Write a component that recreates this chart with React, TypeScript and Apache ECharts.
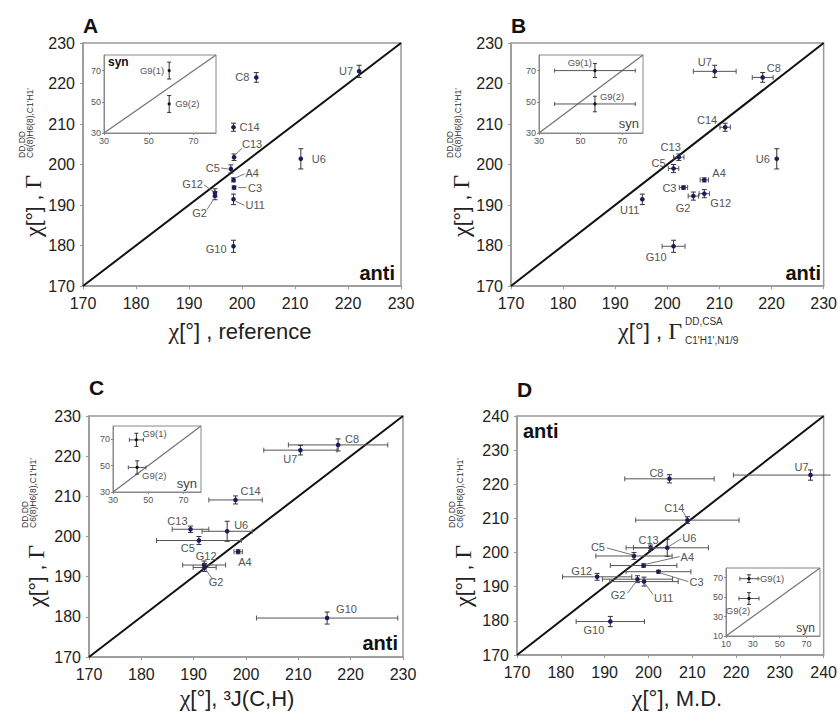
import React, { useEffect, useRef } from 'react';
import * as echarts from 'echarts';

const FONT = '"Liberation Sans", Arial, sans-serif';
const SERIF = '"Liberation Serif", "Times New Roman", serif';

// ---------- Panel A : reference ----------
const aNames = ['U7', 'C8', 'C14', 'C13', 'U6', 'C5', 'A4', 'C3', 'G12', 'G2', 'U11', 'G10'];
const aX = [222.1, 202.7, 198.4, 198.5, 211.1, 197.9, 198.4, 198.5, 194.9, 194.9, 198.4, 198.4];
const aY = [223.0, 221.5, 209.2, 201.8, 201.4, 198.9, 196.2, 194.3, 193.0, 192.3, 191.4, 179.8];
const aXErr = [0, 0, 0, 0, 0, 0, 0, 0, 0, 0, 0, 0];
const aYErr = [1.5, 1.2, 1.0, 0.8, 2.5, 1.0, 0.5, 0.4, 1.0, 1.0, 1.3, 1.5];

// ---------- Panel B : DD,CSA ----------
const bNames = ['U7', 'C8', 'C14', 'C13', 'U6', 'C5', 'A4', 'C3', 'G12', 'G2', 'U11', 'G10'];
const bX = [209.1, 218.3, 211.1, 202.2, 221.0, 201.2, 207.1, 203.1, 207.1, 205.0, 195.2, 201.2];
const bY = [223.0, 221.5, 209.2, 201.8, 201.4, 199.0, 196.2, 194.3, 192.8, 192.2, 191.4, 179.8];
const bXErr = [4.1, 2.0, 1.0, 1.0, 0, 1.0, 0.8, 0.8, 1.0, 1.0, 0, 2.2];
const bYErr = [1.5, 1.2, 1.0, 0.8, 2.5, 1.0, 0.5, 0.4, 1.0, 1.0, 1.3, 1.5];

// ---------- Panel C : 3J(C,H) ----------
const cNames = ['C8', 'U7', 'C14', 'C13', 'U6', 'C5', 'A4', 'G12', 'G2', 'G10'];
const cX = [217.6, 210.4, 198.0, 189.4, 196.4, 191.0, 198.5, 192.0, 192.1, 215.5];
const cY = [222.8, 221.5, 209.1, 201.8, 201.3, 199.0, 196.2, 192.9, 192.3, 179.7];
const cXErr = [9.5, 7.0, 5.1, 3.5, 4.8, 8.1, 0.8, 4.1, 2.2, 13.5];
const cYErr = [1.5, 1.2, 1.0, 0.8, 2.5, 1.0, 0.5, 1.0, 1.0, 1.5];

// ---------- Panel D : M.D. ----------
const dNames = ['U7', 'C8', 'C14', 'C13', 'U6', 'C5', 'A4', 'C3', 'G12', 'G2', 'U11', 'G10'];
const dX = [237.0, 204.8, 208.9, 200.5, 204.3, 196.7, 198.9, 202.3, 188.3, 197.5, 199.0, 191.3];
const dY = [222.7, 221.6, 209.5, 201.4, 201.4, 199.0, 196.2, 194.4, 192.9, 192.2, 191.5, 179.8];
const dXErr = [17.6, 10.2, 11.8, 3.9, 9.4, 8.7, 7.6, 7.4, 7.9, 8.0, 7.8, 7.8];
const dYErr = [1.5, 1.2, 1.0, 0.8, 2.5, 1.0, 0.5, 0.4, 1.0, 1.0, 1.3, 1.5];

// ---------- insets (syn) ----------
const synNames = ['G9(1)', 'G9(2)'];
const aInsX = [59.1, 59.1];
const aInsY = [70.0, 48.6];
const aInsXErr = [0, 0];
const aInsYErr = [5.4, 5.4];
const bInsX = [56.9, 56.9];
const bInsY = [70.0, 48.6];
const bInsXErr = [19.4, 19.4];
const bInsYErr = [4.5, 5.0];
const cInsX = [43.3, 43.7];
const cInsY = [69.5, 48.6];
const cInsXErr = [4.0, 5.0];
const cInsYErr = [5.0, 5.0];
const dInsX = [27.1, 27.1];
const dInsY = [69.0, 48.6];
const dInsXErr = [6.8, 7.5];
const dInsYErr = [4.0, 6.0];

const mainRanges = [[170, 230], [170, 230], [170, 230], [170, 240]];
const insetRanges = [[30, 80], [30, 80], [30, 80], [10, 80]];

// label placement (pixel offsets from the point): [dx, dy, align, leader?]
const aLab: Record<string, any[]> = {
  U7: [-6, 0, 'right'], C8: [-7, 0, 'right'], C14: [6, 0, 'left'],
  C13: [8, -13, 'left', [2, -3, 8, -9]], U6: [11, 0, 'left'],
  C5: [-11, -1, 'right', [-10, -1, -3, 0]], A4: [12, -7, 'left', [2, -2, 11, -6]],
  C3: [14, 0, 'left', [4, 0, 12, 0]], G12: [-12, -9, 'right', [-11, -8, -1, -1]],
  G2: [-8, 17, 'right', [-8, 14, -1, 3]], U11: [12, 6, 'left', [2, 2, 11, 6]],
  G10: [-7, 3, 'right'],
};
const bLab: Record<string, any[]> = {
  U7: [-3, -9, 'right'], C8: [4, -9, 'left'], C14: [-8, -7, 'right'],
  C13: [2, -10, 'right'], U6: [-7, 0, 'right'], C5: [-8, -6, 'right'],
  A4: [8, -7, 'left'], C3: [-7, 0, 'right'], G12: [6, 9, 'left'],
  G2: [-3, 12, 'right'], U11: [-3, 11, 'right'], G10: [-7, 11, 'right'],
};
const cLab: Record<string, any[]> = {
  C8: [7, -6, 'left'], U7: [-3, 9, 'right'], C14: [5, -9, 'left'],
  C13: [-3, -8, 'right'], U6: [7, -6, 'left'], C5: [-4, 7, 'right'],
  A4: [0, 10, 'left'], G12: [2, -9, 'center'], G2: [4, 15, 'left', [1, 2, 8, 12]],
  G10: [9, -9, 'left'],
};
const dLab: Record<string, any[]> = {
  U7: [-2, -8, 'right'], C8: [-6, -6, 'right'], C14: [-3, -12, 'right', [-4, -8, -1, -2]],
  C13: [-2, -8, 'center'], U6: [15, -10, 'left', [1, -1, 14, -9]],
  C5: [-29, -9, 'right', [-27, -8, -1, -1]], A4: [37, -9, 'left', [1, -1, 36, -9]],
  C3: [31, 10, 'left', [1, 1, 30, 10]], G12: [-5, -6, 'right'],
  G2: [-12, 16, 'right', [-10, 14, -1, 2]], U11: [10, 16, 'left', [1, 2, 9, 13]],
  G10: [-6, 8, 'right'],
};
const aInsLab: Record<string, any[]> = { 'G9(1)': [-5, 0, 'right'], 'G9(2)': [6, 0, 'left'] };
const bInsLab: Record<string, any[]> = { 'G9(1)': [-3, -8, 'right'], 'G9(2)': [5, -7, 'left'] };
const cInsLab: Record<string, any[]> = { 'G9(1)': [6, -6, 'left'], 'G9(2)': [5, 8, 'left'] };
const dInsLab: Record<string, any[]> = { 'G9(1)': [11, 0, 'left', [7, 0, 11, 0]], 'G9(2)': [-11, 12, 'center'] };

const mainGrids = [
  { left: 83, top: 43, width: 318, height: 243 },
  { left: 511, top: 43, width: 316, height: 243 },
  { left: 89, top: 416, width: 314, height: 241 },
  { left: 517, top: 416, width: 311, height: 239 },
];
const insetGrids = [
  { left: 104, top: 55, width: 112, height: 78 },
  { left: 539, top: 55, width: 104, height: 78 },
  { left: 113, top: 426, width: 88, height: 66 },
  { left: 726, top: 568, width: 94, height: 68 },
];

function makeRender(names: string[], lays: Record<string, any[]>, o: { r: number; fs: number; mark: string; cap: number }) {
  return (params: any, api: any) => {
    const i = params.dataIndex;
    const x = api.value(0), y = api.value(1), xe = api.value(2), ye = api.value(3);
    const p = api.coord([x, y]);
    const cs = params.coordSys;
    const rightLim = cs.x + cs.width + 7;
    const ch: any[] = [];
    const ls = { stroke: '#555', lineWidth: 1 };
    const cap = o.cap;
    if (xe > 0) {
      const l = api.coord([x - xe, y])[0];
      let r = api.coord([x + xe, y])[0];
      const clipped = r > rightLim;
      if (clipped) r = rightLim;
      ch.push({ type: 'line', shape: { x1: l, y1: p[1], x2: r, y2: p[1] }, style: ls });
      ch.push({ type: 'line', shape: { x1: l, y1: p[1] - cap, x2: l, y2: p[1] + cap }, style: ls });
      if (!clipped) ch.push({ type: 'line', shape: { x1: r, y1: p[1] - cap, x2: r, y2: p[1] + cap }, style: ls });
    }
    if (ye > 0) {
      const t = api.coord([x, y + ye])[1];
      const b = api.coord([x, y - ye])[1];
      const vs = { stroke: '#333', lineWidth: 1 };
      ch.push({ type: 'line', shape: { x1: p[0], y1: t, x2: p[0], y2: b }, style: vs });
      ch.push({ type: 'line', shape: { x1: p[0] - cap, y1: t, x2: p[0] + cap, y2: t }, style: vs });
      ch.push({ type: 'line', shape: { x1: p[0] - cap, y1: b, x2: p[0] + cap, y2: b }, style: vs });
    }
    ch.push({ type: 'circle', shape: { cx: p[0], cy: p[1], r: o.r }, style: { fill: o.mark } });
    const L = lays[names[i]];
    if (L) {
      if (L[3]) {
        const q = L[3];
        ch.push({ type: 'line', shape: { x1: p[0] + q[0], y1: p[1] + q[1], x2: p[0] + q[2], y2: p[1] + q[3] }, style: { stroke: '#666', lineWidth: 0.9 } });
      }
      ch.push({
        type: 'text', x: p[0] + L[0], y: p[1] + L[1],
        style: { text: names[i], fill: '#555', fontSize: o.fs, fontFamily: FONT, align: L[2], verticalAlign: 'middle' },
      });
    }
    return { type: 'group', children: ch };
  };
}

function pack(xs: number[], ys: number[], xe: number[], ye: number[]) {
  return xs.map((v, i) => [v, ys[i], xe[i], ye[i]]);
}

export default function App() {
  const ref = useRef<HTMLDivElement>(null);
  useEffect(() => {
    if (!ref.current) return;
    const chart = echarts.init(ref.current, undefined, { renderer: 'svg' });

    const grid: any[] = [];
    const xAxis: any[] = [];
    const yAxis: any[] = [];
    mainGrids.forEach((g, i) => {
      grid.push({ ...g, show: true, borderColor: '#999', borderWidth: 1.5, backgroundColor: 'transparent' });
      const [mn, mx] = mainRanges[i];
      const common = {
        gridIndex: i, type: 'value', min: mn, max: mx, interval: 10,
        axisLine: { show: true, lineStyle: { color: '#999', width: 1.5 } },
        axisTick: { show: true, length: 3, lineStyle: { color: '#999' } },
        splitLine: { show: false },
      };
      xAxis.push({ ...common, axisLabel: { fontSize: 16, color: '#222', fontFamily: FONT, margin: 9 } });
      yAxis.push({ ...common, axisLabel: { fontSize: 16, color: '#222', fontFamily: FONT, margin: 8 } });
    });
    insetGrids.forEach((g, i) => {
      grid.push({ ...g, show: true, borderColor: '#888', borderWidth: 1, backgroundColor: '#fff', z: 3 });
      const [mn, mx] = insetRanges[i];
      const common = {
        gridIndex: 4 + i, type: 'value', min: mn, max: mx, interval: 20, z: 3,
        axisLine: { show: true, lineStyle: { color: '#888', width: 1 } },
        axisTick: { show: true, length: 2, lineStyle: { color: '#888' } },
        splitLine: { show: false },
        axisLabel: { fontSize: 9, color: '#555', fontFamily: FONT, margin: 3, showMaxLabel: false },
      };
      xAxis.push({ ...common });
      yAxis.push({ ...common });
    });

    const mainSets = [
      { names: aNames, data: pack(aX, aY, aXErr, aYErr), lab: aLab },
      { names: bNames, data: pack(bX, bY, bXErr, bYErr), lab: bLab },
      { names: cNames, data: pack(cX, cY, cXErr, cYErr), lab: cLab },
      { names: dNames, data: pack(dX, dY, dXErr, dYErr), lab: dLab },
    ];
    const insetSets = [
      { data: pack(aInsX, aInsY, aInsXErr, aInsYErr), lab: aInsLab },
      { data: pack(bInsX, bInsY, bInsXErr, bInsYErr), lab: bInsLab },
      { data: pack(cInsX, cInsY, cInsXErr, cInsYErr), lab: cInsLab },
      { data: pack(dInsX, dInsY, dInsXErr, dInsYErr), lab: dInsLab },
    ];

    const series: any[] = [];
    mainSets.forEach((s, i) => {
      const [mn, mx] = mainRanges[i];
      series.push({
        type: 'line', xAxisIndex: i, yAxisIndex: i, data: [[mn, mn], [mx, mx]],
        symbol: 'none', silent: true, lineStyle: { color: '#111', width: 2 }, z: 2,
      });
      series.push({
        type: 'custom', xAxisIndex: i, yAxisIndex: i, data: s.data, z: 4,
        encode: { x: 0, y: 1 },
        renderItem: makeRender(s.names, s.lab, { r: 2.3, fs: 11, mark: '#1b1b60', cap: 2.5 }),
      });
    });
    insetSets.forEach((s, i) => {
      const [mn, mx] = insetRanges[i];
      series.push({
        type: 'line', xAxisIndex: 4 + i, yAxisIndex: 4 + i, data: [[mn, mn], [mx, mx]],
        symbol: 'none', silent: true, lineStyle: { color: '#777', width: 1.3 }, z: 5,
      });
      series.push({
        type: 'custom', xAxisIndex: 4 + i, yAxisIndex: 4 + i, data: s.data, z: 6,
        encode: { x: 0, y: 1 },
        renderItem: makeRender(synNames, s.lab, { r: 1.6, fs: 9.5, mark: '#111', cap: 2 }),
      });
    });

    const greek = { g: { fontFamily: SERIF, fontSize: 24, fill: '#222' } };
    const T = (text: string, x: number, y: number, fs: number, opts: any = {}) => ({
      type: 'text', x, y, z: 10,
      style: { text, fontSize: fs, fontFamily: FONT, fill: '#111', align: 'left', verticalAlign: 'middle', ...opts },
    });
    const yTitle = (x: number, y: number) => ({
      type: 'group', x, y, rotation: Math.PI / 2, z: 10,
      children: [
        T('{g|χ}[°] , {g|Γ}', 0, 0, 21, { fill: '#222', rich: greek }),
        T('DD,DD', 79, -11, 8.5, { fill: '#333' }),
        T("C6(8)H6(8),C1'H1'", 79, -3, 8.5, { fill: '#333' }),
      ],
    });

    const graphic: any[] = [
      T('A', 83, 25, 21, { fontWeight: 'bold' }),
      T('B', 511, 25, 21, { fontWeight: 'bold' }),
      T('C', 89, 387, 21, { fontWeight: 'bold' }),
      T('D', 517, 389, 21, { fontWeight: 'bold' }),
      T('anti', 395, 273, 20, { fontWeight: 'bold', align: 'right' }),
      T('anti', 821, 273, 20, { fontWeight: 'bold', align: 'right' }),
      T('anti', 398, 643, 20, { fontWeight: 'bold', align: 'right' }),
      T('anti', 523, 431, 20, { fontWeight: 'bold' }),
      T('syn', 108, 62, 12, { fontWeight: 'bold' }),
      T('syn', 639, 123, 13, { align: 'right', fill: '#444' }),
      T('syn', 197, 483, 13, { align: 'right', fill: '#444' }),
      T('syn', 815, 628, 12, { align: 'right', fill: '#444' }),
      T('{g|χ}[°] , reference', 240, 331, 22, { align: 'center', fill: '#222', rich: greek }),
      T('{g|χ}[°] , {g|Γ}', 682, 331, 22, { align: 'right', fill: '#222', rich: greek }),
      T('DD,CSA', 685, 321, 10, { fill: '#333' }),
      T("C1'H1',N1/9", 685, 340, 10, { fill: '#333' }),
      T('{g|χ}[°], ³J(C,H)', 237, 698, 22, { align: 'center', fill: '#222', rich: greek }),
      T('{g|χ}[°], M.D.', 677, 698, 22, { align: 'center', fill: '#222', rich: greek }),
      yTitle(33, 237),
      yTitle(461, 237),
      yTitle(36, 607),
      yTitle(463, 607),
    ];

    chart.setOption({
      animation: false,
      backgroundColor: '#fff',
      grid, xAxis, yAxis, series, graphic,
    });
    return () => chart.dispose();
  }, []);
  return <div ref={ref} style={{ position: 'absolute', left: 0, top: 0, width: 840, height: 721 }} />;
}
